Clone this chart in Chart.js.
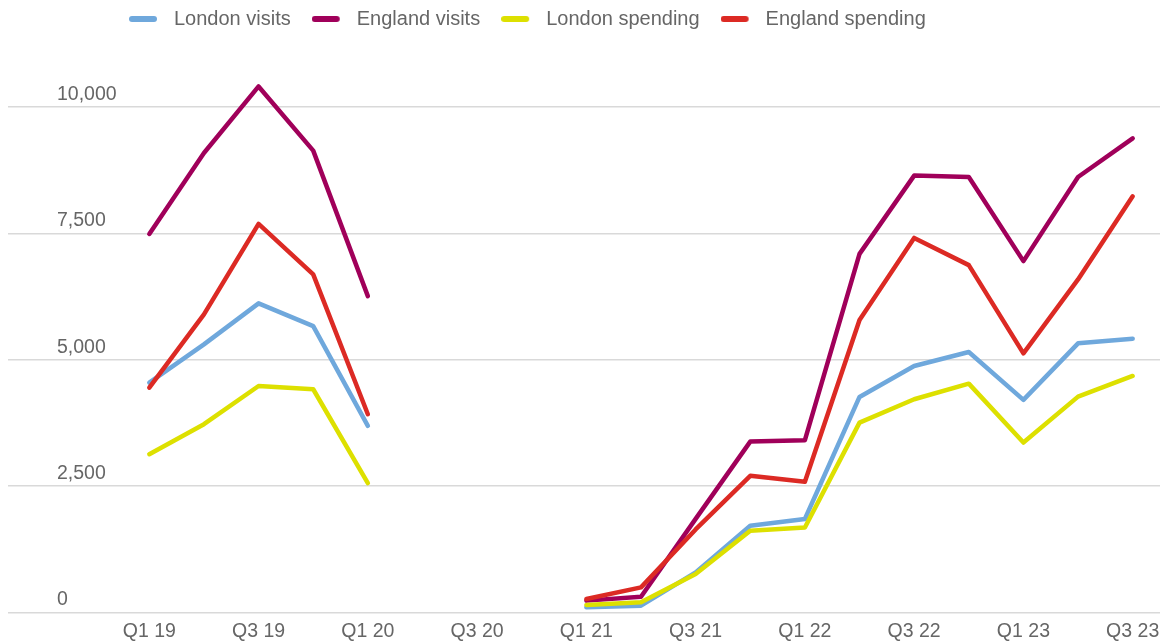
<!DOCTYPE html>
<html>
<head>
<meta charset="utf-8">
<script src="https://cdn.jsdelivr.net/npm/chart.js@4/dist/chart.umd.min.js"></script>
<style>
  html, body { margin: 0; padding: 0; background: #ffffff; }
  #wrap { width: 1168px; height: 644px; }
</style>
</head>
<body>
<div id="wrap"><canvas id="chart" width="1168" height="644"></canvas></div>
<script>
// Quarterly categories (Q2 20 – Q4 20 have no figures)
const quarters = ['Q1 19', 'Q2 19', 'Q3 19', 'Q4 19', 'Q1 20', 'Q2 20', 'Q3 20', 'Q4 20',
  'Q1 21', 'Q2 21', 'Q3 21', 'Q4 21', 'Q1 22', 'Q2 22', 'Q3 22', 'Q4 22', 'Q1 23', 'Q2 23', 'Q3 23'];

// Labels printed under the x axis
const xTickLabels = ['Q1 19', 'Q3 19', 'Q1 20', 'Q3 20', 'Q1 21', 'Q3 21', 'Q1 22', 'Q3 22', 'Q1 23', 'Q3 23'];

// Values on the y axis
const yTickValues = [0, 2500, 5000, 7500, 10000];

const londonVisits = [4545, 5304, 6115, 5666, 3690, null, null, null,
  99, 132, 791, 1713, 1846, 4263, 4875, 5152, 4204, 5324, 5415];
const englandVisits = [7490, 9091, 10409, 9138, 6259, null, null, null,
  231, 308, 1850, 3379, 3407, 7095, 8644, 8617, 6951, 8617, 9381];
const londonSpending = [3130, 3723, 4480, 4415, 2557, null, null, null,
  146, 198, 759, 1615, 1680, 3755, 4217, 4526, 3360, 4269, 4678];
const englandSpending = [4447, 5897, 7688, 6688, 3921, null, null, null,
  264, 494, 1640, 2702, 2583, 5785, 7411, 6872, 5126, 6589, 8235];

const FONT = '"Liberation Sans", Arial, Helvetica, sans-serif';
const TEXT = '#666666';
const GRID = '#d9d9d9';

// Short rounded dash used as the legend key
function legendMarker(color) {
  const c = document.createElement('canvas');
  c.width = 35; c.height = 8;
  const g = c.getContext('2d');
  g.strokeStyle = color;
  g.lineWidth = 6;
  g.lineCap = 'round';
  g.beginPath();
  g.moveTo(3, 4);
  g.lineTo(25, 4);
  g.stroke();
  return c;
}

function lineSeries(label, data, color) {
  return {
    label, data,
    borderColor: color,
    backgroundColor: color,
    borderWidth: 4.5,
    pointRadius: 0,
    pointHoverRadius: 0,
    tension: 0,
    spanGaps: false,
    borderJoinStyle: 'round',
    borderCapStyle: 'round',
    fill: false
  };
}

// Later series sit underneath: England spending is drawn last (on top)
const datasets = [
  lineSeries('England spending', englandSpending, '#dc2a24'),
  lineSeries('London spending', londonSpending, '#dde000'),
  lineSeries('England visits', englandVisits, '#a0005a'),
  lineSeries('London visits', londonVisits, '#6fa8dc')
];
const markers = datasets.map(d => legendMarker(d.borderColor));

new Chart(document.getElementById('chart'), {
  type: 'line',
  data: { labels: quarters, datasets },
  options: {
    responsive: false,
    animation: false,
    events: [],
    layout: { padding: { left: 108, right: 8, top: -12, bottom: -7.7 } },
    plugins: {
      tooltip: { enabled: false },
      legend: {
        position: 'top',
        align: 'start',
        reverse: true,
        labels: {
          usePointStyle: true,
          pointStyleWidth: 35,
          padding: 21,
          color: TEXT,
          font: { family: FONT, size: 20 },
          generateLabels(chart) {
            const items = Chart.defaults.plugins.legend.labels.generateLabels(chart);
            items.forEach(it => { it.pointStyle = markers[it.datasetIndex]; });
            return items;
          }
        }
      }
    },
    scales: {
      x: {
        type: 'category',
        offset: true,
        grid: { display: false, drawTicks: false },
        border: { display: false },
        ticks: {
          autoSkip: false,
          maxRotation: 0,
          padding: 8,
          color: TEXT,
          font: { family: FONT, size: 19.5 },
          callback(value, index) {
            const q = quarters[index];
            return xTickLabels.includes(q) ? q : '';
          }
        }
      },
      y: {
        min: 0,
        max: 11348,
        afterBuildTicks(scale) {
          scale.ticks = yTickValues.map(v => ({ value: v }));
        },
        afterFit(scale) {
          scale.width = 14;
        },
        grid: {
          color: GRID,
          lineWidth: 1.5,
          drawTicks: true,
          tickLength: 114
        },
        border: { display: false },
        ticks: {
          mirror: true,
          padding: -65,
          labelOffset: -12.5,
          color: TEXT,
          font: { family: FONT, size: 19.5 },
          callback(value) {
            return value.toLocaleString('en-GB');
          }
        }
      }
    }
  }
});
</script>
</body>
</html>
